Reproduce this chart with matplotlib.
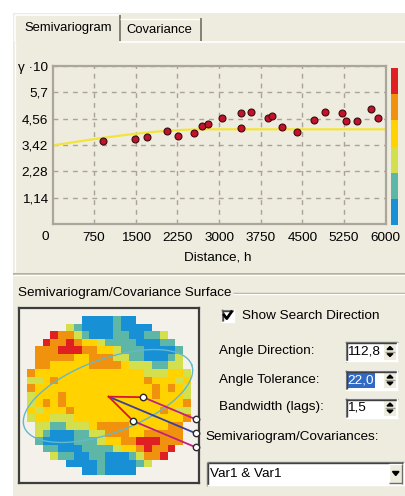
import numpy as np
import matplotlib
matplotlib.use("Agg")
import matplotlib.pyplot as plt
from matplotlib.colors import ListedColormap
from matplotlib.patches import Rectangle, Polygon

plt.rcParams['font.family'] = ['Liberation Sans', 'DejaVu Sans']

# ---------------------------------------------------------------- data
# experimental semivariogram: lag distance h and gamma (x10)
lag_distance = [915, 1486, 1708, 2068, 2254, 2554, 2686, 2800, 3052, 3389,
                3389, 3574, 3875, 3958, 4138, 4397, 4709, 4913, 5219, 5285,
                5478, 5735, 5856]
gamma_values = [3.61, 3.67, 3.77, 4.04, 3.81, 3.93, 4.26, 4.32, 4.59, 4.81,
                4.14, 4.86, 4.58, 4.69, 4.21, 3.98, 4.49, 4.86, 4.81, 4.47,
                4.47, 4.97, 4.59]

# fitted spherical model
model_nugget = 3.40
model_sill = 4.10
model_range = 2800.0

x_ticks = [0, 750, 1500, 2250, 3000, 3750, 4500, 5250, 6000]
y_ticks = [1.14, 2.28, 3.42, 4.56, 5.70]
y_tick_labels = ["1,14", "2,28", "3,42", "4,56", "5,7"]
y_top = 6.84
y_top_label = "\u03b3 \u00b710"

# surface classes, low -> high
class_colors = ["#1790d6", "#5db6a6", "#d3df4c", "#ffd200", "#f1920f", "#df1f22"]
class_codes = "BTGYOR"

# upper half of the semivariogram surface (rows from top, centre row last)
surface_upper = [
    ".......BBBBTBB.......",
    ".....GTBBBBTBBBB.....",
    "...ROOGTBBBTTBBTTG...",
    "..ROOROYYGTTTTBBBTT..",
    ".OOORRROOYYGTTTBBBBT.",
    ".OOOOOYYOOOGGTTBBBTG.",
    ".OOYYYYYOOOOYGGGTTGG.",
    "OYYYYYYYYYYYYYYGGGYYG",
    "GGYOYYYYYYYYYYYOYYYGY",
    "OYYYYYYYYYYYYYYYOYOYG",
    "GYYYOYYYYYYYYYYYOYYYG",
]

angle_direction = 112.8
angle_tolerance = 22.0
bandwidth_lags = 1.5

# ---------------------------------------------------------------- layout
W, H = 405, 496
BEIGE = "#eeebdf"
FS = 9.7


def frac(x0, y0, x1, y1):
    return [x0 / W, 1 - y1 / H, (x1 - x0) / W, (y1 - y0) / H]


fig = plt.figure(figsize=(W / 100, H / 100), dpi=100, facecolor="white")

ui = fig.add_axes([0, 0, 1, 1])
ui.set_xlim(0, W)
ui.set_ylim(H, 0)
ui.axis("off")


def hline(x0, x1, y, c, lw=1.0):
    ui.plot([x0, x1], [y, y], color=c, lw=lw, solid_capstyle="butt")


def vline(x, y0, y1, c, lw=1.0):
    ui.plot([x, x], [y0, y1], color=c, lw=lw, solid_capstyle="butt")


def sunken(x0, y0, x1, y1, fill="white"):
    ui.add_patch(Rectangle((x0, y0), x1 - x0, y1 - y0, facecolor=fill, edgecolor="none"))
    hline(x0, x1, y0 + 0.5, "#808080")
    vline(x0 + 0.5, y0, y1, "#808080")
    hline(x0 + 1, x1 - 1, y0 + 1.5, "#404040")
    vline(x0 + 1.5, y0 + 1, y1 - 1, "#404040")
    hline(x0, x1, y1 - 0.5, "#ffffff")
    vline(x1 - 0.5, y0, y1, "#ffffff")


def spinner(x0, y0, x1, y1):
    ui.add_patch(Rectangle((x0, y0), x1 - x0, y1 - y0, facecolor=BEIGE, edgecolor="none"))
    xm = (x0 + x1) / 2
    ym = (y0 + y1) / 2
    ui.add_patch(Polygon([(xm - 3, ym - 2), (xm + 3, ym - 2), (xm, ym - 5)], color="black"))
    ui.add_patch(Polygon([(xm - 3, ym + 2), (xm + 3, ym + 2), (xm, ym + 5)], color="black"))
    hline(x0 + 1, x1 - 1, ym, "#a09c90")


# window background
ui.add_patch(Rectangle((13, 13), W - 13, H - 13, facecolor=BEIGE, edgecolor="none"))

# tabs
vline(14.5, 15, 42, "white", 1.2)
hline(14.5, 119, 15, "white", 1.2)
vline(119.5, 15, 42, "#716f64", 1.2)
hline(120, 200, 18.5, "white", 1.0)
vline(200.5, 18, 41, "#716f64", 1.2)
hline(119, W, 41.5, "white", 1.2)
vline(14.5, 42, 272, "white", 1.0)
ui.text(24, 28.5, "Semivariogram", fontsize=9.4, va="center", ha="left")
ui.text(126, 30, "Covariance", fontsize=9.4, va="center", ha="left")

# panel separator and group box
hline(13, W, 273.5, "#aca899", 1.2)
hline(13, W, 275, "white", 1.0)
ui.text(18, 293, "Semivariogram/Covariance Surface", fontsize=FS, va="center", ha="left")
hline(233, W, 292.5, "#aca899", 1.0)
hline(233, W, 293.7, "white", 1.0)

# ---------------------------------------------------------------- semivariogram plot
ax = fig.add_axes(frac(52.5, 66, 385.7, 224))
ax.set_facecolor("none")
ax.set_xlim(0, 6000)
ax.set_ylim(0, y_top)
for s in ax.spines.values():
    s.set_color("#aaa69b")
    s.set_linewidth(1.6)

ax.set_xticks(x_ticks[1:])
ax.set_xticklabels([str(v) for v in x_ticks[1:]], fontsize=FS)
ax.set_yticks(y_ticks + [y_top])
ax.set_yticklabels(y_tick_labels + [y_top_label], fontsize=FS)
ax.tick_params(length=0, pad=3)
ax.tick_params(axis="x", pad=6)
ax.grid(True, color="#a9a497", lw=1.0, ls=(0, (3.5, 3.5)))
ax.set_axisbelow(True)
ui.text(45, 237, str(x_ticks[0]), fontsize=FS, va="center", ha="center")
ui.text(218, 258, "Distance, h", fontsize=FS, va="center", ha="center")

h = np.linspace(0, x_ticks[-1], 300)
r = np.clip(h / model_range, 0, 1)
model = model_nugget + (model_sill - model_nugget) * (1.5 * r - 0.5 * r ** 3)
ax.plot(h, model, color="#f3e43c", lw=1.6, zorder=2, clip_on=True)
ax.plot(lag_distance, gamma_values, "o", ms=5.0, mfc="#c4122b", mec="#3a0b0e",
        mew=0.8, zorder=3, clip_on=False)

# colour scale
seg = (225 - 68) / len(class_colors)
for i, c in enumerate(class_colors):
    ui.add_patch(Rectangle((390.5, 225 - (i + 1) * seg), 7, seg, facecolor=c, edgecolor="none"))

# ---------------------------------------------------------------- surface map
CX_PX, CY_PX = 109.0, 395.5      # centre of the map in pixels
SX, SY = 7.8, 7.57               # cell size in pixels

rows = surface_upper + [row[::-1] for row in surface_upper[:-1][::-1]]
grid = np.full((len(rows), len(rows[0])), np.nan)
for i, row in enumerate(rows):
    for j, ch in enumerate(row):
        if ch != ".":
            grid[i, j] = class_codes.index(ch)
n = grid.shape[0]
mid = (n - 1) / 2

hm = fig.add_axes(frac(19, 308, 199, 483))
hm.set_facecolor("#f3f1e9")
hm.imshow(np.ma.masked_invalid(grid), cmap=ListedColormap(class_colors), vmin=-0.5,
          vmax=len(class_colors) - 0.5, extent=(-0.5, n - 0.5, -0.5, n - 0.5),
          origin="upper", interpolation="nearest", aspect="auto")
hm.set_xlim(mid - 90 / SX, mid + 90 / SX)
hm.set_ylim(mid - 87.5 / SY, mid + 87.5 / SY)
hm.set_xticks([])
hm.set_yticks([])
for s in hm.spines.values():
    s.set_color("#3c3c3c")
    s.set_linewidth(1.6)


def to_cells(dx, dy):
    return mid + np.asarray(dx) / SX, mid + np.asarray(dy) / SY


# anisotropy ellipse
t = np.linspace(0, 2 * np.pi, 300)
ea, eb, eth = 89.3, 36.8, np.radians(20.4)
ex = ea * np.cos(t) * np.cos(eth) - eb * np.sin(t) * np.sin(eth) - 1.0
ey = ea * np.cos(t) * np.sin(eth) + eb * np.sin(t) * np.cos(eth) - 0.5
hm.plot(*to_cells(ex, ey), color="#63b9cc", lw=1.0)

# search direction with tolerance and bandwidth
ox, oy = -0.3, -1.2
x_end = 86.6
lag_px = 8.6
az = np.radians(angle_direction)
tol = np.radians(angle_tolerance)
u = np.array([np.sin(az), np.cos(az)])
o = np.array([ox, oy])
blue_end = o + u * (x_end - ox) / u[0]
hm.plot(*to_cells([o[0], blue_end[0]], [o[1], blue_end[1]]), color="#3b3f9e", lw=1.3)
corner_pts = [blue_end]
L = bandwidth_lags * lag_px / np.sin(tol)
for sgn in (-1, 1):
    v = np.array([np.sin(az + sgn * tol), np.cos(az + sgn * tol)])
    p = o + v * L
    q = p + u * (x_end - p[0]) / u[0]
    hm.plot(*to_cells([o[0], p[0]], [o[1], p[1]]), color="#d8163a", lw=1.3)
    hm.plot(*to_cells([p[0], q[0]], [p[1], q[1]]), color="#c21d84", lw=1.3)
    corner_pts += [p, q]
for pnt in corner_pts:
    hm.plot(*to_cells([pnt[0]], [pnt[1]]), "o", ms=4.6, mfc="white", mec="#2a2a2a",
            mew=1.0, clip_on=False, zorder=5)

# ---------------------------------------------------------------- controls
sunken(221, 309, 234, 322)
ui.plot([224, 226.8, 231.5], [315, 318.6, 311.8], color="black", lw=2.0)
ui.text(242, 316, "Show Search Direction", fontsize=FS, va="center", ha="left")

ui.text(219, 351, "Angle Direction:", fontsize=FS, va="center", ha="left")
sunken(345, 341.5, 397.5, 361.5)
spinner(384, 343.5, 396, 359.5)
ui.text(347.5, 351.5, f"{angle_direction:.1f}".replace(".", ","), fontsize=FS,
        va="center", ha="left")

ui.text(219, 380, "Angle Tolerance:", fontsize=FS, va="center", ha="left")
sunken(345, 370, 397.5, 390)
spinner(384, 372, 396, 388)
ui.add_patch(Rectangle((346.5, 372.5), 28.5, 15.5, facecolor="#316ac5", edgecolor="none"))
ui.text(347.5, 380.5, f"{angle_tolerance:.1f}".replace(".", ","), fontsize=FS,
        va="center", ha="left", color="white")

ui.text(219, 407, "Bandwidth (lags):", fontsize=FS, va="center", ha="left")
sunken(345, 398, 397.5, 418)
spinner(384, 400, 396, 416)
ui.text(347.5, 408, f"{bandwidth_lags:.1f}".replace(".", ","), fontsize=FS,
        va="center", ha="left")

ui.text(205, 437, "Semivariogram/Covariances:", fontsize=FS, va="center", ha="left")
sunken(206.5, 461.5, 404, 485.5)
ui.add_patch(Rectangle((389, 463.5), 13, 20, facecolor=BEIGE, edgecolor="none"))
hline(389, 402, 463.8, "white")
vline(389.3, 463.5, 483.5, "white")
hline(389, 402, 483.2, "#716f64")
vline(401.7, 463.5, 483.5, "#716f64")
ui.add_patch(Polygon([(392.5, 471.5), (399, 471.5), (395.75, 475.5)], color="black"))
ui.text(210, 474, "Var1 & Var1", fontsize=FS, va="center", ha="left")

fig.savefig("out.png", dpi=100, facecolor="white")
